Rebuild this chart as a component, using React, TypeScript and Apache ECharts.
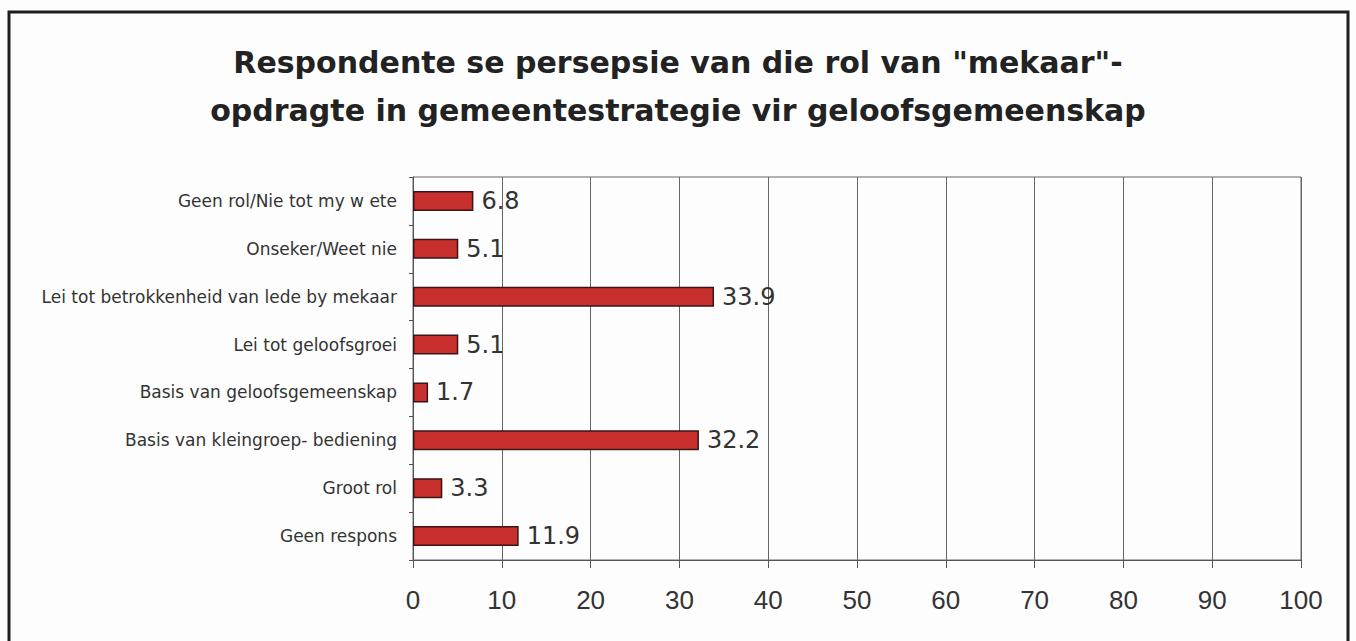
import React, { useEffect, useRef } from "react";
import * as echarts from "echarts";

const titleLines = [
  'Respondente se persepsie van die rol van "mekaar"-',
  "opdragte in gemeentestrategie vir geloofsgemeenskap",
];
const categories = [
  "Geen rol/Nie tot my w ete",
  "Onseker/Weet nie",
  "Lei tot betrokkenheid van lede by mekaar",
  "Lei tot geloofsgroei",
  "Basis van geloofsgemeenskap",
  "Basis van kleingroep- bediening",
  "Groot rol",
  "Geen respons",
];
const values = [6.8, 5.1, 33.9, 5.1, 1.7, 32.2, 3.3, 11.9];

export default function App() {
  const ref = useRef<HTMLDivElement>(null);
  useEffect(() => {
    if (!ref.current) return;
    const chart = echarts.init(ref.current, undefined, { renderer: "svg" });
    chart.setOption({
      animation: false,
      backgroundColor: "#fdfdfd",
      textStyle: { fontFamily: "Liberation Sans, Arial, sans-serif" },
      title: {
        text: titleLines.join("\n"),
        left: "center",
        top: 33,
        textStyle: {
          fontSize: 30,
          fontWeight: "bold",
          color: "#222",
          lineHeight: 48,
          fontFamily: "DejaVu Sans, sans-serif",
        },
      },
      graphic: [
        {
          type: "rect",
          shape: { x: 9, y: 12, width: 1339, height: 660 },
          style: { fill: "none", stroke: "#1e1e1e", lineWidth: 3 },
          silent: true,
        },
      ],
      grid: {
        left: 413,
        right: 55,
        top: 177,
        bottom: 81,
        show: true,
        borderColor: "#666",
        borderWidth: 1,
      },
      xAxis: {
        type: "value",
        min: 0,
        max: 100,
        interval: 10,
        axisLine: { show: true, lineStyle: { color: "#555" } },
        axisTick: { show: true, length: 8, lineStyle: { color: "#555" } },
        splitLine: { show: true, lineStyle: { color: "#666", width: 1 } },
        axisLabel: {
          fontSize: 26,
          color: "#333",
          margin: 27,
          fontFamily: "Liberation Sans, Arial, sans-serif",
        },
      },
      yAxis: {
        type: "category",
        inverse: true,
        data: categories,
        axisLine: { show: true, lineStyle: { color: "#555" } },
        axisTick: { show: true, length: 4, lineStyle: { color: "#555" } },
        axisLabel: {
          fontSize: 17,
          color: "#333",
          margin: 16,
          fontFamily: "DejaVu Sans, sans-serif",
        },
      },
      series: [
        {
          type: "bar",
          data: values,
          barWidth: 20,
          itemStyle: { color: "#c8302e", borderColor: "#3a1515", borderWidth: 1.5 },
          label: {
            show: true,
            position: "right",
            distance: 8,
            fontSize: 24,
            color: "#333",
            fontFamily: "DejaVu Sans, sans-serif",
            formatter: (p: any) => p.value.toFixed(1),
          },
        },
      ],
    });
    return () => chart.dispose();
  }, []);
  return (
    <div
      ref={ref}
      style={{ position: "absolute", left: 0, top: 0, width: 1356, height: 641 }}
    />
  );
}
